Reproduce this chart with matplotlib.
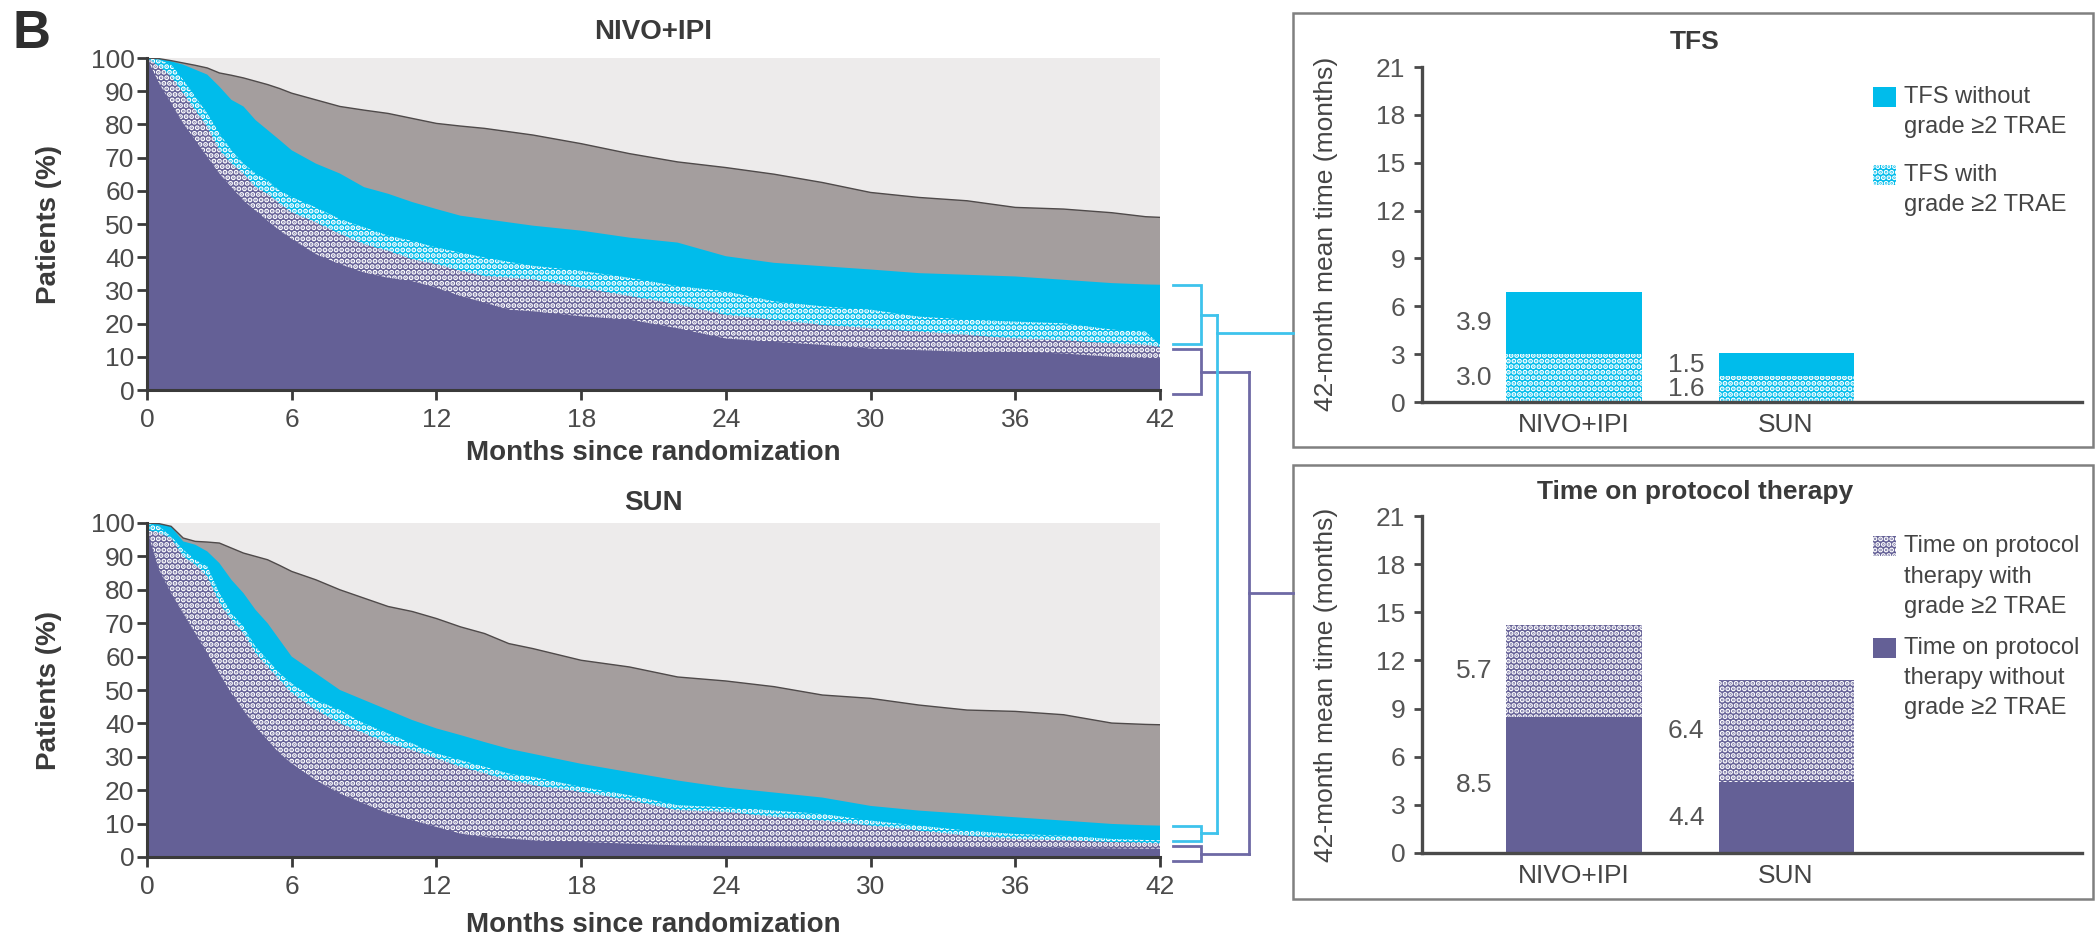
import matplotlib
matplotlib.use('Agg')
import matplotlib.pyplot as plt
from matplotlib.patches import Rectangle

plt.rcParams['font.family'] = ['Liberation Sans', 'DejaVu Sans']
plt.rcParams['hatch.linewidth'] = 2.6
plt.rcParams['hatch.color'] = 'white'

W, H = 2096, 939

# ---------------- data ----------------
months = [0, 0.5, 1, 1.5, 2, 2.5, 3, 3.5, 4, 4.5, 5, 5.5, 6, 7, 8, 9, 10, 11, 12, 13, 14, 15, 16,
          18, 20, 22, 24, 26, 28, 30, 32, 34, 36, 38, 40, 41.4, 42]

# NIVO+IPI cumulative curves (% of patients)
nivo_os = [100, 99.8, 99.2, 98.5, 97.8, 97.0, 95.5, 94.8, 94.0, 93.0, 92.0, 90.8, 89.4,
           87.4, 85.4, 84.3, 83.3, 81.8, 80.3, 79.5, 78.8, 77.8, 76.8,
           74.2, 71.2, 68.7, 67.0, 65.0, 62.5, 59.5, 58.0, 57.0, 55.0, 54.5, 53.4, 52.2, 52.0]
nivo_tfs = [100, 99.8, 99.0, 98.0, 96.5, 95.0, 91.4, 87.4, 85.4, 81.3, 78.3, 75.3, 72.2,
            68.2, 65.2, 61.1, 59.1, 56.6, 54.5, 52.5, 51.5, 50.5, 49.5,
            48.0, 45.9, 44.4, 40.3, 38.3, 37.3, 36.3, 35.2, 34.7, 34.2, 33.2, 32.2, 31.8, 31.7]
nivo_tfs_trae = [100, 99.5, 98.0, 93.4, 88.4, 83.3, 77.3, 72.2, 68.2, 65.2, 63.1, 60.1, 58.1,
                 55.0, 51.5, 49.0, 46.5, 44.9, 42.9, 41.4, 39.9, 38.6, 37.4,
                 35.9, 33.8, 31.3, 29.7, 26.7, 25.2, 24.2, 22.1, 21.2, 20.6, 20.1, 18.2, 17.6, 13.6]
nivo_tx = [100, 97.5, 94.4, 89.4, 84.3, 79.3, 72.2, 68.2, 65.2, 61.1, 59.1, 56.1, 53.5,
           50.5, 47.0, 43.9, 41.9, 39.4, 37.9, 35.9, 34.3, 33.8, 33.3,
           30.8, 28.3, 25.8, 22.6, 21.1, 19.6, 18.6, 17.6, 16.6, 15.5, 15.0, 14.0, 13.6, 13.0]
nivo_tx_notrae = [100, 92.4, 86.4, 80.3, 75.3, 70.2, 65.2, 61.1, 57.1, 54.0, 51.0, 48.0, 45.5,
                  40.9, 37.9, 35.4, 33.8, 32.8, 30.8, 28.3, 26.3, 24.2, 23.7,
                  22.2, 21.2, 18.6, 15.5, 14.5, 13.6, 12.5, 12.0, 11.5, 11.5, 11.0, 10.0, 9.7, 9.5]

# SUN cumulative curves (% of patients)
sun_os = [100, 99.8, 99.0, 95.5, 94.5, 94.3, 94.0, 92.5, 91.0, 90.0, 89.0, 87.3, 85.5,
          83.0, 80.0, 77.5, 75.0, 73.5, 71.4, 68.9, 66.9, 63.9, 62.4,
          58.9, 56.9, 53.9, 52.7, 51.0, 48.5, 47.5, 45.5, 44.0, 43.6, 42.6, 40.1, 39.7, 39.6]
sun_tfs = [100, 99.8, 99.0, 94.5, 93.5, 91.5, 88.0, 83.0, 79.0, 74.0, 70.0, 65.0, 60.0,
           55.0, 50.0, 47.0, 44.0, 41.0, 38.5, 36.5, 34.4, 32.4, 30.9,
           27.9, 25.4, 22.9, 20.8, 19.3, 17.8, 15.3, 13.9, 12.9, 11.9, 10.9, 9.9, 9.5, 9.4]
sun_tfs_trae = [100, 99.0, 96.0, 92.0, 89.0, 87.0, 79.0, 73.0, 69.0, 63.0, 59.0, 55.0, 52.0,
                47.0, 44.0, 40.0, 37.0, 34.0, 31.0, 29.0, 27.0, 25.0, 24.0,
                21.0, 18.5, 15.5, 14.9, 13.9, 12.9, 10.9, 9.4, 7.9, 6.9, 6.4, 5.4, 5.1, 5.0]
sun_tx = [98.0, 97.0, 95.5, 90.0, 87.5, 84.0, 76.0, 71.0, 67.0, 61.0, 57.0, 53.0, 49.0,
          44.0, 40.0, 37.0, 34.0, 32.0, 29.5, 27.0, 25.0, 23.0, 21.5,
          19.5, 17.0, 14.0, 13.5, 12.0, 10.9, 9.4, 7.9, 6.4, 5.4, 5.0, 4.5, 4.2, 4.0]
sun_tx_notrae = [98.0, 86.0, 79.0, 73.0, 67.0, 61.0, 55.0, 49.0, 44.0, 39.0, 35.0, 31.0, 28.0,
                 23.0, 19.0, 16.0, 13.0, 11.0, 9.0, 7.0, 6.0, 5.5, 5.0,
                 4.5, 4.0, 3.5, 3.3, 3.2, 3.1, 3.0, 3.0, 2.9, 2.8, 2.7, 2.6, 2.5, 2.5]

month_ticks = [0, 6, 12, 18, 24, 30, 36, 42]
pct_ticks = [0, 10, 20, 30, 40, 50, 60, 70, 80, 90, 100]

# Bar panels (42-month mean time, months)
bar_groups = ['NIVO+IPI', 'SUN']
tfs_with_trae = [3.0, 1.6]
tfs_without_trae = [3.9, 1.5]
tx_without_trae = [8.5, 4.4]
tx_with_trae = [5.7, 6.4]
mean_ticks = [0, 3, 6, 9, 12, 15, 18, 21]

tfs_legend = ['TFS without\ngrade \u22652 TRAE', 'TFS with\ngrade \u22652 TRAE']
tx_legend = ['Time on protocol\ntherapy with\ngrade \u22652 TRAE',
             'Time on protocol\ntherapy without\ngrade \u22652 TRAE']

# ---------------- style ----------------
C_BG = '#EDEBEB'
C_OS = '#A49E9E'
C_OSLINE = '#4F4A4A'
C_CYAN = '#00BCEB'
C_PURP = '#646096'
C_LCYAN = '#3EC3EC'
C_LPURP = '#6E69A5'
TXT = '#3A3A3A'
TICK = '#4A4A4A'
HATCH = '...'

fig = plt.figure(figsize=(W / 100, H / 100), dpi=100)
fig.patch.set_facecolor('white')


def add_px_axes(left, top, right, bottom, **kw):
    return fig.add_axes([left / W, 1 - bottom / H, (right - left) / W, (bottom - top) / H], **kw)


ov = add_px_axes(0, 0, W, H, zorder=10)
ov.set_xlim(0, W)
ov.set_ylim(H, 0)
ov.axis('off')


def km_panel(ax, os_, tfs, tfs_trae, tx, tx_no):
    ax.set_facecolor(C_BG)
    ax.fill_between(months, 0, os_, facecolor=C_OS, linewidth=0)
    ax.fill_between(months, 0, tfs, facecolor=C_CYAN, linewidth=0)
    ax.fill_between(months, 0, tfs_trae, facecolor=C_CYAN, edgecolor='white', hatch=HATCH, linewidth=0)
    ax.fill_between(months, 0, tx, facecolor=C_PURP, edgecolor='white', hatch=HATCH, linewidth=0)
    ax.fill_between(months, 0, tx_no, facecolor=C_PURP, linewidth=0)
    ax.plot(months, os_, color=C_OSLINE, lw=1.0)
    ax.set_xlim(0, 42)
    ax.set_ylim(0, 100)
    ax.set_xticks(month_ticks)
    ax.set_yticks(pct_ticks)
    for s in ['top', 'right']:
        ax.spines[s].set_visible(False)
    for s in ['left', 'bottom']:
        ax.spines[s].set_linewidth(2.2)
        ax.spines[s].set_color(TXT)
    ax.tick_params(axis='both', length=7, width=2, color=TXT, labelsize=19, labelcolor=TICK)
    ax.tick_params(axis='x', pad=6)
    ax.tick_params(axis='y', pad=2)


ax_top = add_px_axes(147, 58, 1160, 390)
km_panel(ax_top, nivo_os, nivo_tfs, nivo_tfs_trae, nivo_tx, nivo_tx_notrae)
ax_bot = add_px_axes(147, 523, 1160, 857)
km_panel(ax_bot, sun_os, sun_tfs, sun_tfs_trae, sun_tx, sun_tx_notrae)

# KM titles and labels
ov.text(653, 32, 'NIVO+IPI', ha='center', va='center', fontsize=20, fontweight='bold', color=TXT)
ov.text(653, 503, 'SUN', ha='center', va='center', fontsize=20, fontweight='bold', color=TXT)
for yc in (453, 925):
    ov.text(653, yc, 'Months since randomization', ha='center', va='center', fontsize=20,
            fontweight='bold', color=TXT)
for yc in (224, 690):
    ov.text(49, yc, 'Patients (%)', ha='center', va='center', rotation=90, fontsize=20,
            fontweight='bold', color=TXT)
ov.text(12, 34, 'B', ha='left', va='center', fontsize=38, fontweight='bold', color='#2E2E2E')

# ---------------- bar panels ----------------
xpos = [0, 1]
bw = 0.637


def bar_panel(ax, low, high, low_color, low_hatch, high_color, high_hatch):
    ax.bar(xpos, low, width=bw, color=low_color, hatch=low_hatch,
           edgecolor='white', linewidth=0)
    ax.bar(xpos, high, width=bw, bottom=low, color=high_color, hatch=high_hatch,
           edgecolor='white', linewidth=0)
    for i in range(len(xpos)):
        xl = xpos[i] - bw / 2 - 0.066
        ax.text(xl, low[i] / 2, f'{low[i]:.1f}', ha='right', va='center', fontsize=19, color='#555555')
        ax.text(xl, low[i] + high[i] / 2, f'{high[i]:.1f}', ha='right', va='center', fontsize=19,
                color='#555555')
    ax.set_xlim(-0.717, 2.396)
    ax.set_ylim(0, 21)
    ax.set_yticks(mean_ticks)
    ax.set_xticks(xpos)
    ax.set_xticklabels(bar_groups)
    for s in ['top', 'right']:
        ax.spines[s].set_visible(False)
    for s in ['left', 'bottom']:
        ax.spines[s].set_linewidth(2.4)
        ax.spines[s].set_color('#4A4A4A')
    ax.tick_params(axis='y', length=6, width=2, color='#4A4A4A', labelsize=19, labelcolor='#555555', pad=6)
    ax.tick_params(axis='x', length=0, labelsize=19, labelcolor='#444444', pad=8)


ax_tfs = add_px_axes(1422, 67, 2082, 402)
bar_panel(ax_tfs, tfs_with_trae, tfs_without_trae, C_CYAN, HATCH, C_CYAN, None)
ax_tx = add_px_axes(1422, 516, 2082, 853)
bar_panel(ax_tx, tx_without_trae, tx_with_trae, C_PURP, None, C_PURP, HATCH)

# boxes
for (top, bot) in ((13, 447), (465, 899)):
    ov.add_patch(Rectangle((1293, top), 800, bot - top, fill=False, edgecolor='#808080', lw=1.8))

ov.text(1695, 42, 'TFS', ha='center', va='center', fontsize=19, fontweight='bold', color=TXT)
ov.text(1695, 492, 'Time on protocol therapy', ha='center', va='center', fontsize=19,
        fontweight='bold', color=TXT)
for yc in (234, 685):
    ov.text(1326, yc, '42-month mean time (months)', ha='center', va='center', rotation=90,
            fontsize=19, color='#444444')

# legends
def legend_entry(y_first, label, face, hatch, pitch):
    ov.add_patch(Rectangle((1873, y_first - 10), 23, 20, facecolor=face, hatch=hatch,
                           edgecolor='white', lw=0))
    for k, line in enumerate(label.split('\n')):
        ov.text(1904, y_first + k * pitch, line, ha='left', va='center', fontsize=17, color='#444444')


legend_entry(97, tfs_legend[0], C_CYAN, None, 30)
legend_entry(175, tfs_legend[1], C_CYAN, HATCH, 30)
legend_entry(546, tx_legend[0], C_PURP, HATCH, 30.5)
legend_entry(648, tx_legend[1], C_PURP, None, 30)

# ---------------- connectors ----------------
def ypx(ax, v):
    return H - ax.transData.transform((42, v))[1]


def bracket(top, bot, color):
    ov.plot([1173, 1201, 1201, 1173], [top, top, bot, bot], color=color, lw=2, solid_joinstyle='miter')
    return (top + bot) / 2


mids = {}
for key, ax, d_top, b_mid in (('top', ax_top, nivo_tfs[-1], nivo_tx[-1]),
                              ('bot', ax_bot, sun_tfs[-1], sun_tx[-1])):
    yD = ypx(ax, d_top)
    yB = ypx(ax, b_mid)
    y0 = ypx(ax, 0)
    mids[key] = (bracket(yD, yB - 2.5, C_LCYAN), bracket(yB + 2.5, y0 + 4, C_LPURP))

# purple trunk
for key in ('top', 'bot'):
    ov.plot([1201, 1249], [mids[key][1]] * 2, color=C_LPURP, lw=2)
ov.plot([1249, 1249], [mids['top'][1], mids['bot'][1]], color=C_LPURP, lw=2)
ov.plot([1249, 1293], [593, 593], color=C_LPURP, lw=2)
# cyan trunk
for key in ('top', 'bot'):
    ov.plot([1201, 1217], [mids[key][0]] * 2, color=C_LCYAN, lw=2)
ov.plot([1217, 1217], [mids['top'][0], mids['bot'][0]], color=C_LCYAN, lw=2)
ov.plot([1217, 1293], [333, 333], color=C_LCYAN, lw=2)

fig.savefig('out.png', dpi=100, facecolor='white')
